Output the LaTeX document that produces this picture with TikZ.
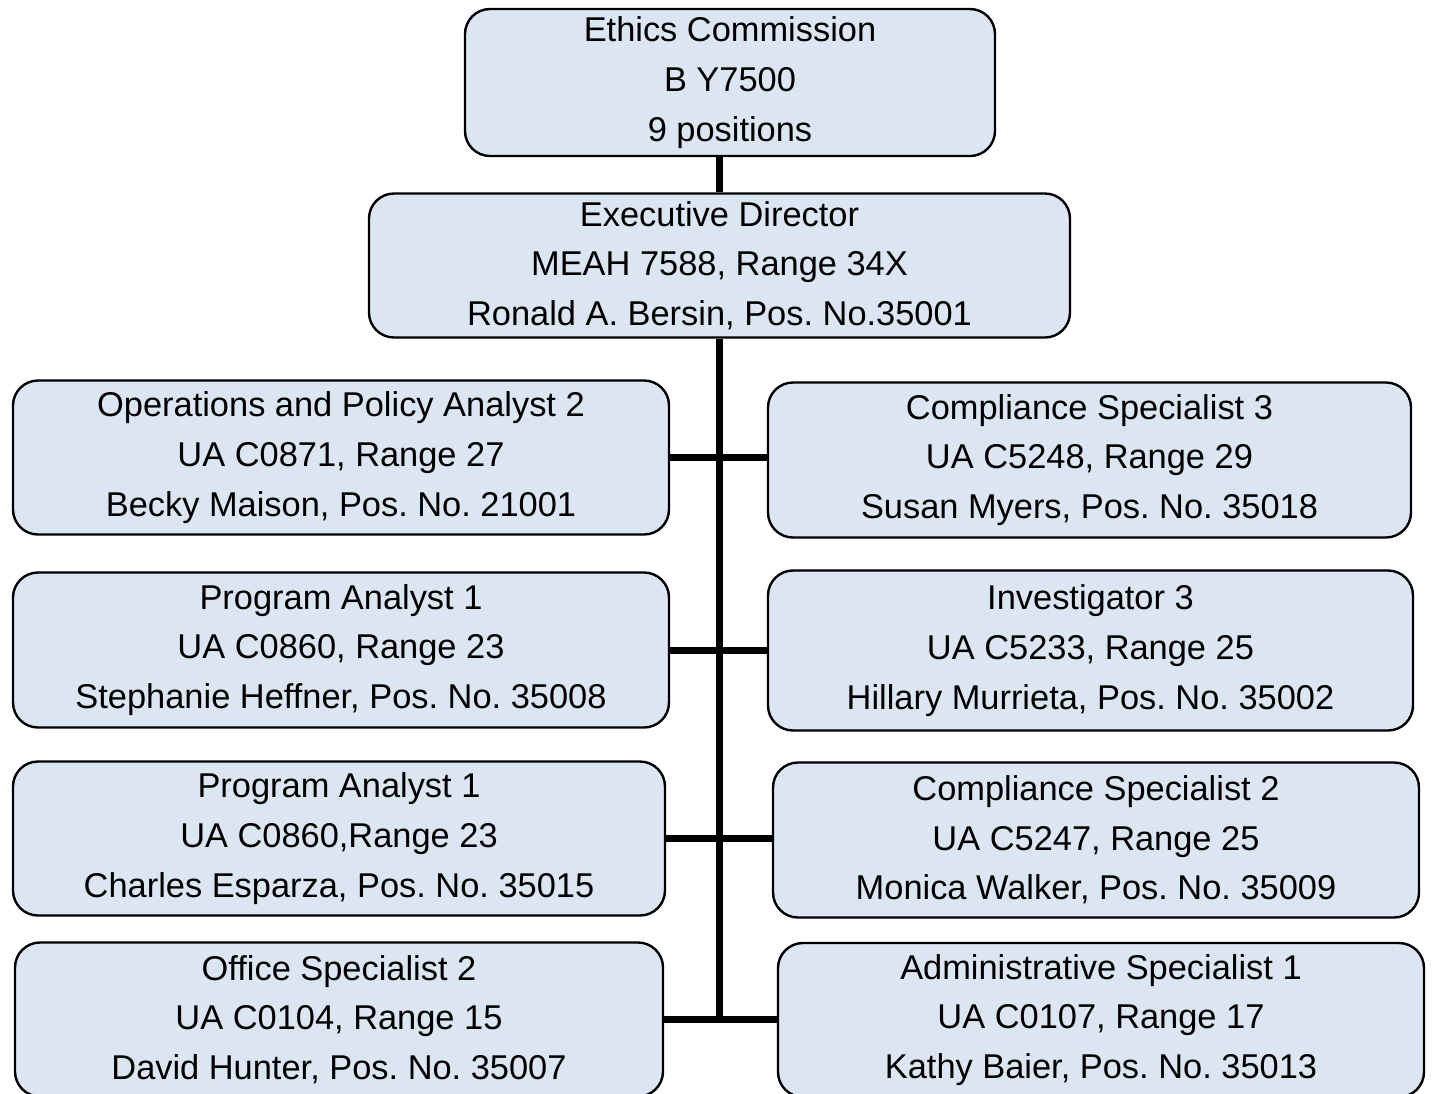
\documentclass[tikz,border=0pt]{standalone}
\usepackage{fontspec}
\setmainfont{Liberation Sans}
\usepackage{xcolor}
\definecolor{boxfill}{HTML}{DCE6F2}
\usepackage{tikz}
\usetikzlibrary{positioning, calc}
\frenchspacing

\begin{document}
\begin{tikzpicture}[
    x=0.5pt, y=-0.5pt,
    orgbox/.style={draw=black, line width=1.2pt, fill=boxfill, rounded corners=12.5pt,
        align=center, inner sep=0pt, font=\fontsize{17.2}{24.8}\selectfont},
    link/.style={line width=3.5pt}
    ]
    \clip (0,0) rectangle (1432,1094);

    \node[orgbox, minimum width=265pt, minimum height=73.5pt] (ethics) at (730,82.5)
        {Ethics Commission\\B Y7500\\9 positions};
    \node[orgbox, minimum width=350.5pt, minimum height=72pt] (exec) at (719.5,265.5)
        {Executive Director\\MEAH 7588, Range 34X\\Ronald A. Bersin, Pos. No.35001};

    % left column
    \node[orgbox, minimum width=328pt, minimum height=77pt] (opa) at (341,457.5)
        {Operations and Policy Analyst 2\\UA C0871, Range 27\\Becky Maison, Pos. No. 21001};
    \node[orgbox, minimum width=328pt, minimum height=77.5pt] (paone) at (341,650)
        {Program Analyst 1\\UA C0860, Range 23\\Stephanie Heffner, Pos. No. 35008};
    \node[orgbox, minimum width=326pt, minimum height=77pt] (patwo) at (339,838.5)
        {Program Analyst 1\\UA C0860,Range 23\\Charles Esparza, Pos. No. 35015};
    \node[orgbox, minimum width=324pt, minimum height=77pt] (ostwo) at (339,1019.5)
        {Office Specialist 2\\UA C0104, Range 15\\David Hunter, Pos. No. 35007};

    % right column
    \node[orgbox, minimum width=321.5pt, minimum height=77.5pt] (csthree) at (1089.5,460)
        {Compliance Specialist 3\\UA C5248, Range 29\\Susan Myers, Pos. No. 35018};
    \node[orgbox, minimum width=322.5pt, minimum height=80pt] (invthree) at (1090.5,650.5)
        {Investigator 3\\UA C5233, Range 25\\Hillary Murrieta, Pos. No. 35002};
    \node[orgbox, minimum width=323pt, minimum height=77.5pt] (cstwo) at (1096,840)
        {Compliance Specialist 2\\UA C5247, Range 25\\Monica Walker, Pos. No. 35009};
    \node[orgbox, minimum width=323pt, minimum height=77pt] (asone) at (1101,1020)
        {Administrative Specialist 1\\UA C0107, Range 17\\Kathy Baier, Pos. No. 35013};

    \coordinate (spineend) at (exec.south |- ostwo.east);

    \draw[link] (exec.north) -- (exec.north |- ethics.south);
    \draw[link] (exec.south) -- (spineend);
    \draw[link] (opa.east) -- (opa.east -| csthree.west);
    \draw[link] (paone.east) -- (paone.east -| invthree.west);
    \draw[link] (patwo.east) -- (patwo.east -| cstwo.west);
    \draw[link] (ostwo.east) -- (ostwo.east -| asone.west);
\end{tikzpicture}
\end{document}
